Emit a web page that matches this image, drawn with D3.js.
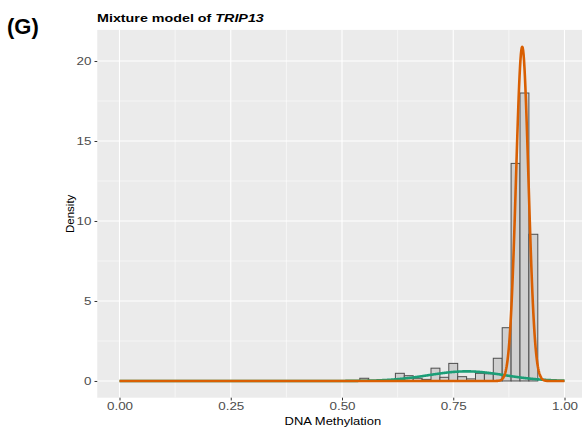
<!DOCTYPE html>
<html>
<head>
<meta charset="utf-8">
<script src="https://cdn.jsdelivr.net/npm/d3@7"></script>
<style>
  body { margin: 0; background: #fff; }
  text { font-family: "Liberation Sans", Arial, sans-serif; }
</style>
</head>
<body>
<div id="chart"></div>
<script>
// histogram bins (left edge) and their density
var binStart = [0.54, 0.62, 0.64, 0.66, 0.68, 0.70, 0.72, 0.74, 0.76, 0.78, 0.80, 0.82, 0.84, 0.86, 0.88, 0.90, 0.92]
var binDensity = [0.17, 0.48, 0.33, 0.17, 0.10, 0.80, 0.23, 1.10, 0.27, 0.13, 0.48, 0.45, 1.42, 3.33, 13.6, 18.0, 9.17]
var binWidth = 0.02

// fitted mixture components (mean, sd, weight)
var compName = ["low", "high"]
var compMean = [0.78, 0.905]
var compSd = [0.085, 0.014]
var compWeight = [0.128, 0.733]
var compColor = ["#1B9E77", "#D95F02"]

var xTicks = [0, 0.25, 0.5, 0.75, 1]
var xMinor = [0.125, 0.375, 0.625, 0.875]
var yTicks = [0, 5, 10, 15, 20]
var yMinor = [2.5, 7.5, 12.5, 17.5]

var W = 582, H = 428
var panel = { left: 97.25, right: 586.75, top: 29.9, bottom: 397.7 }

var svg = d3.select("#chart").append("svg")
	.attr("width", W).attr("height", H)

var x = d3.scaleLinear().domain([-0.05, 1.05]).range([panel.left, panel.right])
var y = d3.scaleLinear().domain([-1.045, 21.945]).range([panel.bottom, panel.top])

svg.append("clipPath").attr("id", "clip").append("rect")
	.attr("x", panel.left).attr("y", panel.top)
	.attr("width", W - panel.left).attr("height", panel.bottom - panel.top)

svg.append("rect")
	.attr("x", panel.left).attr("y", panel.top)
	.attr("width", panel.right - panel.left).attr("height", panel.bottom - panel.top)
	.attr("fill", "#EBEBEB")

var grid = svg.append("g").attr("clip-path", "url(#clip)")

// minor grid
grid.selectAll(".xminor").data(xMinor).enter().append("line")
	.attr("x1", d => x(d)).attr("x2", d => x(d))
	.attr("y1", panel.top).attr("y2", panel.bottom)
	.attr("stroke", "#fff").attr("stroke-width", 0.55)
grid.selectAll(".yminor").data(yMinor).enter().append("line")
	.attr("x1", panel.left).attr("x2", panel.right)
	.attr("y1", d => y(d)).attr("y2", d => y(d))
	.attr("stroke", "#fff").attr("stroke-width", 0.55)
// major grid
grid.selectAll(".xmajor").data(xTicks).enter().append("line")
	.attr("x1", d => x(d)).attr("x2", d => x(d))
	.attr("y1", panel.top).attr("y2", panel.bottom)
	.attr("stroke", "#fff").attr("stroke-width", 1.1)
grid.selectAll(".ymajor").data(yTicks).enter().append("line")
	.attr("x1", panel.left).attr("x2", panel.right)
	.attr("y1", d => y(d)).attr("y2", d => y(d))
	.attr("stroke", "#fff").attr("stroke-width", 1.1)

// histogram
grid.selectAll(".bar").data(binStart).enter().append("rect")
	.attr("class", "bar")
	.attr("x", d => x(d))
	.attr("width", d => x(d + binWidth) - x(d))
	.attr("y", (d, i) => y(binDensity[i]))
	.attr("height", (d, i) => y(0) - y(binDensity[i]))
	.attr("fill", "#D0D0D0")
	.attr("stroke", "#4D4D4D")
	.attr("stroke-width", 1)

// component density curves
var xs = d3.range(0, 1.0001, 0.001)
function compCurve(k) {
	return xs.map(function(v) {
		var z = (v - compMean[k]) / compSd[k]
		return [v, compWeight[k] * Math.exp(-0.5 * z * z) / (compSd[k] * Math.sqrt(2 * Math.PI))]
	})
}
var line = d3.line().x(d => x(d[0])).y(d => y(d[1]))

grid.selectAll(".comp").data(compName).enter().append("path")
	.attr("class", "comp")
	.attr("d", (d, k) => line(compCurve(k)))
	.attr("fill", "none")
	.attr("stroke", (d, k) => compColor[k])
	.attr("stroke-width", 2.6)
	.attr("stroke-linejoin", "round")

// axes
var stretch = 1.22
var xAxis = svg.append("g").attr("transform", "translate(0," + panel.bottom + ")")
	.call(d3.axisBottom(x).tickValues(xTicks).tickFormat(d3.format(".2f")).tickSize(2.75).tickPadding(2))
xAxis.select(".domain").remove()
xAxis.selectAll("line").attr("stroke", "#333")
xAxis.selectAll("text").attr("fill", "#4D4D4D").style("font-size", "11px")
	.attr("transform", "scale(" + stretch + ",1)")

var yAxis = svg.append("g").attr("transform", "translate(" + panel.left + ",0)")
	.call(d3.axisLeft(y).tickValues(yTicks).tickSize(2.75).tickPadding(2))
yAxis.select(".domain").remove()
yAxis.selectAll("line").attr("stroke", "#333")
yAxis.selectAll("text").attr("fill", "#4D4D4D").style("font-size", "11px")
	.attr("transform", "scale(" + stretch + ",1)")

// labels
svg.append("text")
	.attr("transform", "translate(" + ((panel.left + 564.5) / 2 + 2) + ",424.5) scale(" + 1.18 + ",1)")
	.attr("text-anchor", "middle")
	.style("font-size", "11px").attr("fill", "#000")
	.text("DNA Methylation")

svg.append("text")
	.attr("transform", "translate(73.5," + ((panel.top + panel.bottom) / 2) + ") rotate(-90)")
	.attr("text-anchor", "middle")
	.style("font-size", "11.5px").attr("fill", "#000")
	.text("Density")

var title = svg.append("text")
	.attr("transform", "translate(97,21.5) scale(1.3,1)")
	.style("font-size", "11px").style("font-weight", "bold").attr("fill", "#000")
title.append("tspan").text("Mixture model of ")
title.append("tspan").style("font-style", "italic").text("TRIP13")

svg.append("text")
	.attr("x", 7).attr("y", 34)
	.style("font-size", "22px").style("font-weight", "bold").attr("fill", "#000")
	.text("(G)")
</script>
</body>
</html>
